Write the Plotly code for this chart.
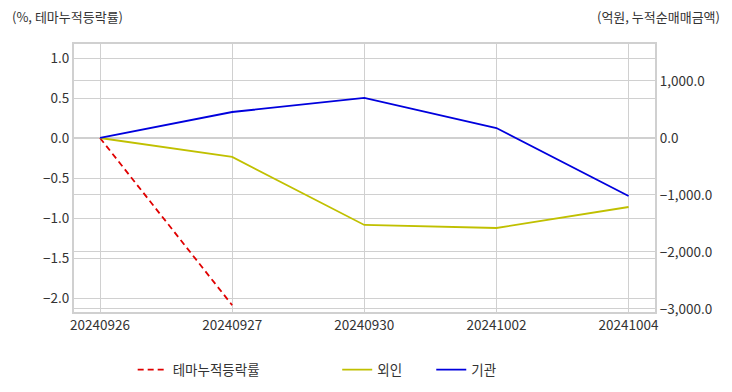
import plotly.graph_objects as go

dates = ["20240926", "20240927", "20240930", "20241002", "20241004"]
theme_rate = [0.0, -2.09, None, None, None]
foreign = [0.0, -333, -1526, -1579, -1211]
institution = [0.0, 456, 702, 175, -1018]

FONT = "Noto Sans CJK KR"

fig = go.Figure()
fig.add_trace(go.Scatter(x=dates, y=theme_rate, name="테마누적등락률" + "\u00a0" * 24,
                         mode="lines", line=dict(color="#e00000", width=1.8, dash="6px,4px"),
                         yaxis="y"))
fig.add_trace(go.Scatter(x=dates, y=foreign, name="외인" + "\u00a0" * 8, mode="lines",
                         line=dict(color="#c0c000", width=1.8), yaxis="y2"))
fig.add_trace(go.Scatter(x=dates, y=institution, name="기관", mode="lines",
                         line=dict(color="#0000dd", width=1.8), yaxis="y2"))

grid = "#d0d0d0"
fig.update_layout(
    width=732, height=392,
    margin=dict(l=66, r=85, t=36, b=88, autoexpand=False),
    paper_bgcolor="white", plot_bgcolor="white",
    font=dict(family=FONT, size=13.5, color="#333"),
    xaxis=dict(type="category", range=[-0.197, 4.2], showgrid=True, gridcolor=grid,
               showline=True, linecolor=grid, mirror=True, linewidth=2,
               tickfont=dict(size=13.5), ticks="", zeroline=False, automargin=False),
    yaxis=dict(range=[-2.175, 1.175], tickvals=[1, 0.5, 0, -0.5, -1, -1.5, -2],
               tickformat=".1f", showgrid=True, gridcolor=grid, zeroline=False,
               showline=True, linecolor=grid, linewidth=2, ticks="", automargin=False),
    yaxis2=dict(range=[-3053, 1649], overlaying="y", side="right",
                tickvals=[1000, 0, -1000, -2000, -3000], tickformat=",.1f",
                showgrid=True, gridcolor=grid, zeroline=False,
                showline=True, linecolor=grid, linewidth=2, ticks="", automargin=False),
    legend=dict(orientation="h", x=0.101, xanchor="left", y=-0.216, yanchor="middle",
                font=dict(size=13.5, color="#333"), itemwidth=30),
    showlegend=True,
    annotations=[
        dict(text="(%, 테마누적등락률)", xref="paper", yref="paper", x=-0.11, y=1.0,
             xanchor="left", yanchor="middle", yshift=28, showarrow=False,
             font=dict(size=13, color="#333")),
        dict(text="(억원, 누적순매매금액)", xref="paper", yref="paper", x=1.115, y=1.0,
             xanchor="right", yanchor="middle", yshift=28, showarrow=False,
             font=dict(size=13, color="#333")),
    ],
)

fig.write_html("out.html")
